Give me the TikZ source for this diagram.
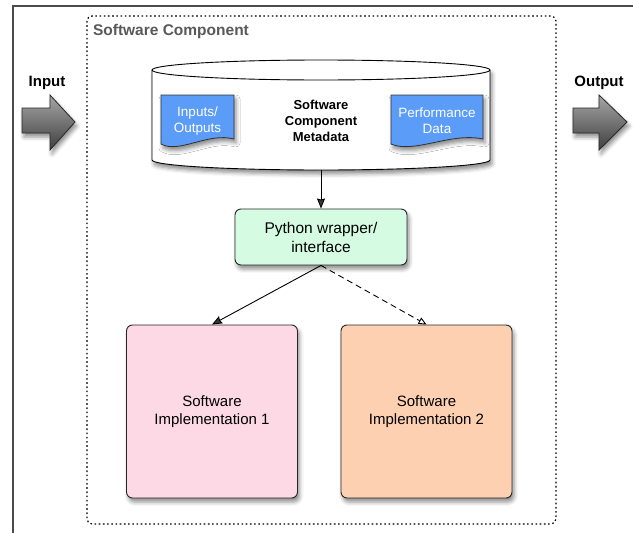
\documentclass[tikz,border=0pt]{standalone}
\usepackage{fontspec}
\setmainfont{Liberation Sans}
\usetikzlibrary{arrows.meta,shadows.blur}
\definecolor{docblue}{RGB}{90,156,248}
\definecolor{wrapgreen}{RGB}{213,252,227}
\definecolor{implpink}{RGB}{253,216,229}
\definecolor{implpeach}{RGB}{253,208,178}

\begin{document}
\begin{tikzpicture}
    [x=1pt,y=-1pt,
    frame/.style={draw=black!70,line width=1.2pt},
    container/.style={draw=black,line width=1.2pt,dash pattern=on 1.6pt off 2.6pt,rounded corners=5pt},
    soft shadow/.style={blur shadow={shadow xshift=2pt,shadow yshift=-4pt,shadow blur radius=4pt,shadow opacity=45}},
    box/.style={draw=black!85,line width=0.9pt,rounded corners=6pt,soft shadow,align=center,font=\fontsize{15}{18.5}\selectfont},
    doc/.style={draw=black!80,line width=0.8pt,fill=docblue,soft shadow},
    doctext/.style={text=white,align=center,font=\fontsize{13.5}{16}\selectfont},
    link/.style={-{Stealth[length=10pt,width=8pt,inset=1pt]},line width=0.9pt},
    option link/.style={-{Triangle[open,length=8pt,width=7pt]},line width=0.9pt,dash pattern=on 6pt off 4pt},
    bigarrow/.style={draw=black!85,line width=0.8pt,top color=black!35,bottom color=black!75,soft shadow},
    flowlabel/.style={font=\bfseries\fontsize{15}{18}\selectfont}]

\useasboundingbox (0,0) rectangle (633,533);

%outer frame and component boundary
\draw[frame] (633,6) -- (13,6) -- (13,533);
\draw[container] (87,16) rectangle (556,524);
\node[anchor=west,text=black!65,font=\bfseries\fontsize{15.5}{18}\selectfont] (comptitle) at (89.5,31) {Software Component};

%metadata store
\path[fill=white,soft shadow] (152,70) -- (152,160) arc[start angle=180,end angle=0,x radius=169,y radius=10]
    -- (490,70) arc[start angle=0,end angle=-180,x radius=169,y radius=10] -- cycle;
\draw[line width=0.9pt] (152,70) -- (152,160) arc[start angle=180,end angle=0,x radius=169,y radius=10] -- (490,70);
\draw[line width=0.9pt] (321,70) ellipse[x radius=169,y radius=10];
\coordinate (cylbot) at (321,170);
\node[align=center,font=\bfseries\fontsize{13}{16}\selectfont] (meta) at (321,121) {Software\\Component\\Metadata};

%documents inside the store
\path[doc] (161,95) -- (234,95) -- (234,139) .. controls (208,132) and (179,154) .. (161,144) -- cycle;
\node[doctext] (inout) at (197.5,121) {Inputs/\\Outputs};
\path[doc] (391,95) -- (483,95) -- (483,139) .. controls (451,132) and (414,154) .. (391,144) -- cycle;
\node[doctext] (perf) at (437,121) {Performance\\Data};

%wrapper and implementations
\node[box,fill=wrapgreen,minimum width=172pt,minimum height=56pt,font=\fontsize{15.5}{19}\selectfont] (wrapper) at (321,237) {Python wrapper/\\interface};
\node[box,fill=implpink,minimum width=171pt,minimum height=173pt] (impl1) at (212,411.5) {Software\\Implementation 1};
\node[box,fill=implpeach,minimum width=171pt,minimum height=173pt] (impl2) at (426.5,411.5) {Software\\Implementation 2};

%connectors
\draw[link] (cylbot) -- (wrapper);
\draw[link] (wrapper.south) -- (impl1.north);
\draw[option link] (wrapper.south) -- (impl2.north);

%input and output arrows
\path[bigarrow] (22,108) -- (50,108) -- (50,95) -- (75,122) -- (50,150) -- (50,133) -- (22,133) -- cycle;
\node[flowlabel] (inlabel) at (47,83) {Input};
\path[bigarrow] (573,108) -- (599,108) -- (599,95) -- (627,122) -- (599,150) -- (599,133) -- (573,133) -- cycle;
\node[flowlabel] (outlabel) at (599,83) {Output};

\end{tikzpicture}
\end{document}
